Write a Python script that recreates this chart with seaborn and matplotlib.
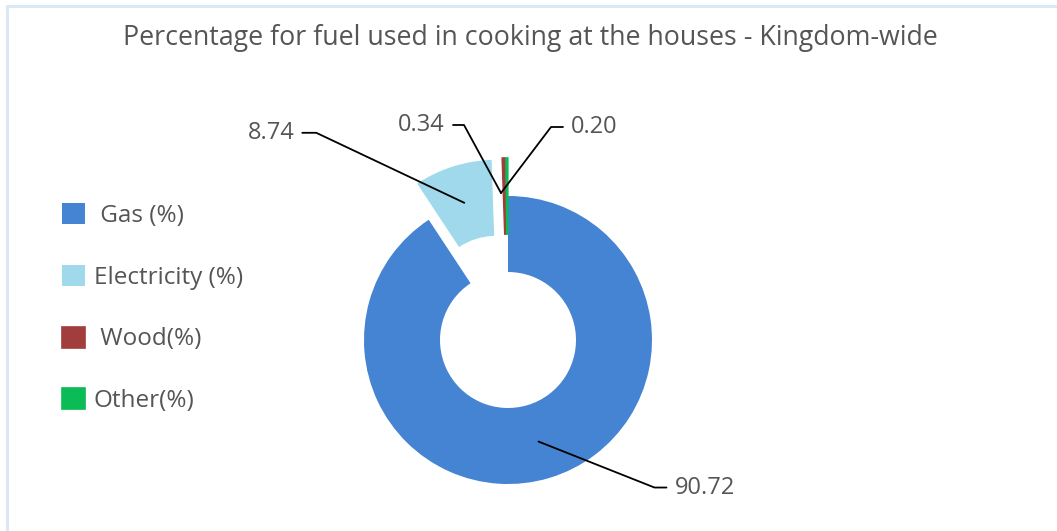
import numpy as np
import matplotlib
matplotlib.use("Agg")
import matplotlib.pyplot as plt
import seaborn as sns

# ---- data ----
categories = ["Gas (%)", "Electricity (%)", "Wood(%)", "Other(%)"]
legend_labels = [" Gas (%)", "Electricity (%)", " Wood(%)", "Other(%)"]
values = [90.72, 8.74, 0.34, 0.20]
value_labels = ["90.72", "8.74", "0.34", "0.20"]
title = "Percentage for fuel used in cooking at the houses - Kingdom-wide"

colors = ["#4583d3", "#a0d9eb", "#a13d3d", "#0bbb55"]

sns.set_theme(style="white")
plt.rcParams["font.family"] = ["Open Sans", "DejaVu Sans"]

W, H = 1057, 531
fig = plt.figure(figsize=(W / 100, H / 100), dpi=100)
ax = fig.add_axes([0, 0, 1, 1])

# border
ax.plot([7, 7, W], [H, 6, 6], color="#dce7f4", lw=2.2, solid_capstyle="butt")

# donut (y axis inverted -> counterclock=True renders clockwise on screen)
cx, cy, R, ring = 508, 340, 144, 76
off = 38
explode = [0, off, off, off]
wedges, _ = ax.pie(values, colors=colors, center=(cx, cy), radius=R,
                   startangle=-90, counterclock=True, explode=explode,
                   wedgeprops=dict(width=ring, linewidth=0),
                   frame=True)
for w in wedges[2:]:
    w.set_edgecolor(w.get_facecolor())
    w.set_linewidth(1.2)
ax.set_xlim(0, W)
ax.set_ylim(H, 0)
ax.axis("off")
ax.set_aspect("equal")

# leader lines & labels: (dx, dy) to elbow, horizontal length, side
label_layout = [(116, 46, 12, 1), (-148, -70, 14, -1), (-37, -68, 11, -1), (50, -66, 12, 1)]
text_color = "#555555"
for i, w in enumerate(wedges):
    tm = np.deg2rad((w.theta1 + w.theta2) / 2)
    rm = w.r - w.width / 2
    ax_, ay_ = w.center[0] + rm * np.cos(tm), w.center[1] + rm * np.sin(tm)
    if i >= 2:
        ax_, ay_ = 501, 193
    dx, dy, hl, side = label_layout[i]
    ex, ey = ax_ + dx, ay_ + dy
    hx = ex + side * hl
    ax.plot([ax_, ex, hx], [ay_, ey, ey], color="black", lw=1.3)
    ax.text(hx + side * 8, ey, value_labels[i], ha="left" if side > 0 else "right",
            va="center", fontsize=17, color=text_color)

# title
ax.text(530, 38, title, ha="center", va="center", fontsize=19.3, color=text_color,
        fontweight="medium")

# legend
leg = ax.legend(wedges, legend_labels, loc="upper left", bbox_to_anchor=(62 / W, 1 - 203 / H),
                frameon=False, fontsize=17.5, labelcolor=text_color,
                handlelength=0.95, handleheight=0.95, handletextpad=0.35,
                labelspacing=1.52, borderaxespad=0, borderpad=0)

fig.savefig("out.png", dpi=100, facecolor="white")
